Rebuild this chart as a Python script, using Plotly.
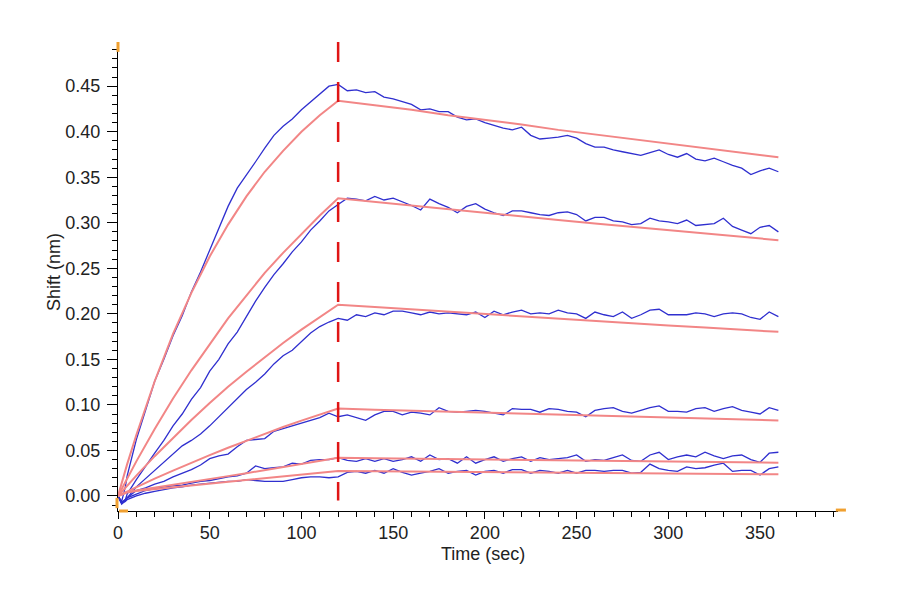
import plotly.graph_objects as go

# ---------------- data ----------------
t_data = [0, 2, 4] + list(range(5, 365, 5))

blue1 = [0.000, -0.006, 0.010, 0.022, 0.062, 0.094, 0.126, 0.150, 0.176, 0.198, 0.224, 0.246,
         0.270, 0.292, 0.318, 0.338, 0.352, 0.367, 0.382, 0.396, 0.406, 0.414, 0.424, 0.433,
         0.442, 0.450, 0.452,
         0.445, 0.446, 0.443, 0.444, 0.438, 0.436, 0.433, 0.430, 0.424, 0.425, 0.422, 0.422,
         0.416, 0.413, 0.414, 0.410, 0.407, 0.404, 0.402, 0.405, 0.396, 0.392, 0.393, 0.394,
         0.396, 0.393, 0.387, 0.383, 0.383, 0.380, 0.378, 0.376, 0.374, 0.377, 0.380, 0.375,
         0.372, 0.376, 0.370, 0.368, 0.371, 0.367, 0.363, 0.360, 0.353, 0.357, 0.360, 0.356]

blue2 = [0.000, -0.008, -0.004, 0.002, 0.018, 0.033, 0.047, 0.061, 0.077, 0.090, 0.106, 0.119,
         0.137, 0.150, 0.167, 0.180, 0.197, 0.214, 0.229, 0.243, 0.255, 0.268, 0.279, 0.292,
         0.302, 0.313, 0.320,
         0.327, 0.326, 0.324, 0.329, 0.325, 0.327, 0.323, 0.319, 0.314, 0.326, 0.321, 0.317,
         0.311, 0.318, 0.321, 0.315, 0.311, 0.308, 0.313, 0.313, 0.311, 0.309, 0.308, 0.311,
         0.312, 0.309, 0.302, 0.306, 0.306, 0.302, 0.301, 0.298, 0.299, 0.305, 0.302, 0.301,
         0.299, 0.303, 0.297, 0.298, 0.299, 0.305, 0.296, 0.292, 0.288, 0.295, 0.297, 0.290]

blue3 = [0.000, -0.009, -0.005, -0.002, 0.010, 0.019, 0.027, 0.036, 0.045, 0.055, 0.061, 0.068,
         0.077, 0.087, 0.098, 0.108, 0.117, 0.125, 0.134, 0.145, 0.154, 0.160, 0.169, 0.179,
         0.186, 0.191, 0.195,
         0.193, 0.199, 0.197, 0.201, 0.199, 0.203, 0.203, 0.201, 0.199, 0.202, 0.200, 0.201,
         0.200, 0.199, 0.202, 0.196, 0.203, 0.199, 0.202, 0.204, 0.200, 0.201, 0.200, 0.204,
         0.201, 0.200, 0.195, 0.202, 0.199, 0.197, 0.202, 0.195, 0.199, 0.204, 0.205, 0.199,
         0.199, 0.199, 0.201, 0.200, 0.197, 0.200, 0.201, 0.200, 0.196, 0.194, 0.202, 0.197]

blue4 = [0.000, -0.008, -0.004, -0.002, 0.006, 0.009, 0.013, 0.016, 0.021, 0.025, 0.029, 0.034,
         0.041, 0.044, 0.046, 0.054, 0.061, 0.062, 0.063, 0.071, 0.074, 0.077, 0.080, 0.083,
         0.086, 0.091, 0.087,
         0.089, 0.086, 0.083, 0.089, 0.093, 0.093, 0.089, 0.092, 0.091, 0.089, 0.097, 0.093,
         0.092, 0.093, 0.094, 0.093, 0.091, 0.089, 0.096, 0.095, 0.095, 0.092, 0.096, 0.095,
         0.093, 0.092, 0.087, 0.094, 0.096, 0.097, 0.093, 0.091, 0.094, 0.097, 0.099, 0.093,
         0.093, 0.092, 0.096, 0.097, 0.093, 0.096, 0.098, 0.094, 0.092, 0.090, 0.097, 0.094]

blue5 = [0.000, -0.007, -0.004, -0.002, 0.002, 0.006, 0.008, 0.010, 0.011, 0.012, 0.014, 0.016,
         0.017, 0.019, 0.021, 0.022, 0.025, 0.033, 0.030, 0.031, 0.032, 0.036, 0.035, 0.039,
         0.040, 0.040, 0.042,
         0.039, 0.038, 0.041, 0.038, 0.041, 0.038, 0.040, 0.043, 0.038, 0.045, 0.040, 0.041,
         0.036, 0.043, 0.036, 0.040, 0.043, 0.038, 0.041, 0.043, 0.038, 0.042, 0.040, 0.041,
         0.042, 0.045, 0.038, 0.040, 0.039, 0.042, 0.045, 0.039, 0.038, 0.045, 0.048, 0.040,
         0.043, 0.045, 0.043, 0.048, 0.044, 0.041, 0.044, 0.045, 0.040, 0.037, 0.047, 0.048]

blue6 = [0.000, -0.008, -0.006, -0.004, 0.000, 0.003, 0.005, 0.007, 0.009, 0.010, 0.012, 0.013,
         0.014, 0.015, 0.016, 0.016, 0.018, 0.017, 0.016, 0.016, 0.016, 0.018, 0.020, 0.021,
         0.021, 0.020, 0.021,
         0.026, 0.027, 0.025, 0.028, 0.025, 0.030, 0.026, 0.023, 0.025, 0.027, 0.030, 0.025,
         0.027, 0.028, 0.023, 0.027, 0.028, 0.025, 0.029, 0.029, 0.025, 0.028, 0.027, 0.025,
         0.028, 0.025, 0.028, 0.028, 0.027, 0.028, 0.028, 0.025, 0.026, 0.035, 0.030, 0.028,
         0.027, 0.032, 0.030, 0.031, 0.034, 0.036, 0.027, 0.028, 0.028, 0.023, 0.030, 0.032]

t_fit = [0, 5, 10, 20, 30, 40, 50, 60, 70, 80, 90, 100, 110, 120,
         140, 160, 180, 200, 220, 240, 260, 280, 300, 320, 340, 360]

fit1 = [0.000, 0.035, 0.067, 0.126, 0.178, 0.223, 0.263, 0.298, 0.329, 0.356, 0.379, 0.400, 0.418, 0.434,
        0.429, 0.424, 0.418, 0.413, 0.408, 0.402, 0.397, 0.392, 0.387, 0.382, 0.377, 0.372]
fit2 = [0.000, 0.019, 0.038, 0.0735, 0.107, 0.138, 0.167, 0.195, 0.220, 0.245, 0.267, 0.288, 0.308, 0.327,
        0.3229, 0.3188, 0.3148, 0.3108, 0.3069, 0.3031, 0.2993, 0.2955, 0.2918, 0.2881, 0.2845, 0.2809]
fit3 = [0.000, 0.0113, 0.0224, 0.0437, 0.064, 0.0834, 0.102, 0.120, 0.1365, 0.1527, 0.168, 0.1827, 0.1966, 0.210,
        0.2074, 0.2048, 0.2021, 0.1996, 0.1970, 0.1945, 0.1921, 0.1896, 0.1872, 0.1849, 0.1825, 0.1802]
fit4 = [0.000, 0.0049, 0.0096, 0.019, 0.0279, 0.0366, 0.0449, 0.053, 0.0608, 0.0684, 0.0757, 0.0827, 0.0895, 0.096,
        0.0948, 0.0937, 0.0925, 0.0914, 0.0903, 0.0893, 0.0882, 0.0871, 0.0861, 0.0850, 0.0840, 0.0830]
fit5 = [0.000, 0.004, 0.006, 0.009, 0.012, 0.0153, 0.0185, 0.0218, 0.025, 0.0284, 0.0318, 0.0352, 0.0386, 0.042,
        0.0415, 0.0411, 0.0406, 0.0402, 0.0397, 0.0393, 0.0388, 0.0384, 0.0379, 0.0375, 0.0370, 0.0366]
fit6 = [0.000, 0.004, 0.0055, 0.0075, 0.0095, 0.0113, 0.013, 0.015, 0.017, 0.019, 0.0213, 0.0235, 0.0255, 0.0275,
        0.0272, 0.0269, 0.0266, 0.0263, 0.0260, 0.0257, 0.0254, 0.0251, 0.0248, 0.0245, 0.0241, 0.0238]

switch_time = 120
x_range = [0, 392.5]
y_range = [-0.0165, 0.4985]
x_title = "Time (sec)"
y_title = "Shift (nm)"

# ---------------- figure ----------------
BLUE = "#2f2fcf"
FIT = "#f28686"
DASH = "#e01515"
ORANGE = "#f0a030"
FONT = "Liberation Sans, Arial, sans-serif"

# plot area in page pixels (page body has an 8px offset)
PL, PR, PT, PB = 118, 838, 42, 511
OFF = 8
PW, PH = PR - PL, PB - PT

fig = go.Figure()
for b in [blue1, blue2, blue3, blue4, blue5, blue6]:
    fig.add_trace(go.Scatter(x=t_data, y=b, mode="lines",
                             line=dict(color=BLUE, width=1.3), hoverinfo="skip"))
for f in [fit1, fit2, fit3, fit4, fit5, fit6]:
    fig.add_trace(go.Scatter(x=t_fit, y=f, mode="lines",
                             line=dict(color=FIT, width=2), hoverinfo="skip"))

# dashed vertical line at the association/dissociation switch
fig.add_shape(type="line", xref="x", yref="y", x0=switch_time, x1=switch_time,
              y0=y_range[1], y1=-0.005, line=dict(color=DASH, width=2.5, dash="20px,20px"))

# orange axis end markers
for (x0, y0, x1, y1) in [(0, 1.0, 0, 0.979), (-0.0014, 0.028, -0.0014, 0.006),
                         (0.0014, 0.0, 0.0139, 0.0), (0.997, 0.002, 1.011, 0.002)]:
    fig.add_shape(type="line", xref="paper", yref="paper", x0=x0, y0=y0, x1=x1, y1=y1,
                  line=dict(color=ORANGE, width=3))

fig.update_layout(
    width=900, height=600,
    margin=dict(l=PL - OFF, r=900 - PR + OFF, t=PT - OFF, b=600 - PB + OFF),
    plot_bgcolor="white", paper_bgcolor="white",
    showlegend=False,
    font=dict(family=FONT, size=18, color="#222222"),
)
fig.update_xaxes(range=x_range, showgrid=False, zeroline=False,
                 showline=True, linecolor="black", linewidth=1,
                 ticks="outside", ticklen=7, tickcolor="black", dtick=50, tick0=0,
                 tickfont=dict(size=18), ticklabelstandoff=-2,
                 minor=dict(ticks="outside", ticklen=5, dtick=10, tick0=0, tickcolor="black"))
fig.update_yaxes(range=y_range, showgrid=False, zeroline=False,
                 showline=True, linecolor="black", linewidth=1,
                 ticks="outside", ticklen=10, tickcolor="black", dtick=0.05, tick0=0,
                 tickformat=".2f", tickfont=dict(size=18), ticklabelstandoff=3,
                 minor=dict(ticks="outside", ticklen=5, dtick=0.01, tick0=0, tickcolor="black"))

fig.add_annotation(text=x_title, xref="paper", yref="paper",
                   x=(483 - PL) / PW, y=(PB - 554) / PH, showarrow=False,
                   font=dict(size=18, family=FONT, color="#222222"),
                   xanchor="center", yanchor="middle")
fig.add_annotation(text=y_title, xref="paper", yref="paper",
                   x=(54 - PL) / PW, y=(PB - 272) / PH, showarrow=False, textangle=-90,
                   font=dict(size=18, family=FONT, color="#222222"),
                   xanchor="center", yanchor="middle")

fig.write_html("out.html")
